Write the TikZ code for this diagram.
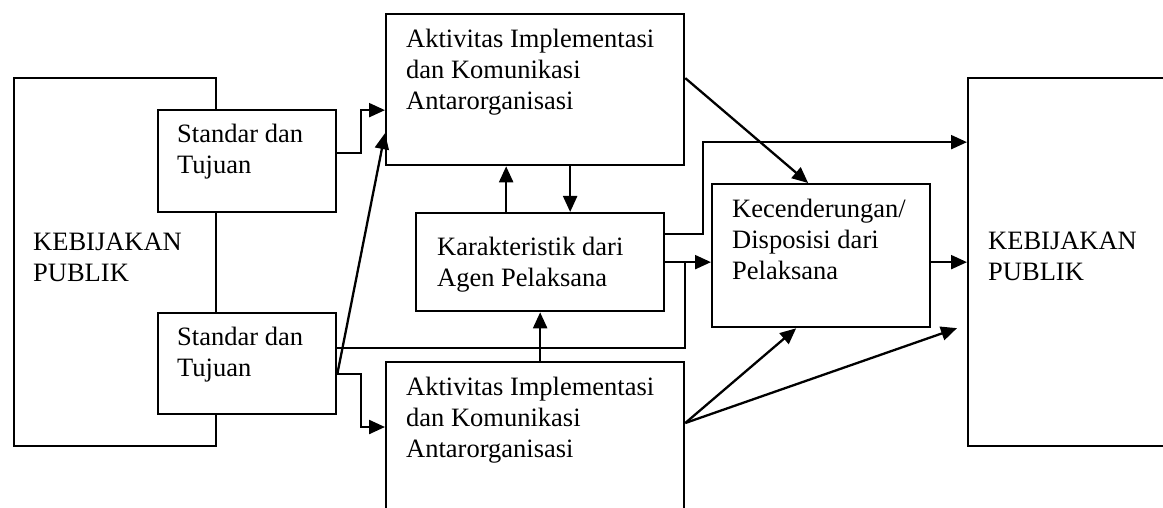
\documentclass[tikz,border=0pt]{standalone}
\usepackage{fontspec}
\setmainfont{Liberation Serif}
\usepackage{tikz}
\usetikzlibrary{arrows.meta, positioning, calc}
\tikzset{
  box/.style={rectangle, draw, fill=white, line width=2.3pt, inner sep=0pt,
              anchor=north west},
  txt/.style={anchor=base west, align=left, inner sep=0pt,
              font=\fontsize{26.5}{31}\selectfont},
  arrow/.style={-{Triangle[length=16pt, width=14pt]}, line width=2.3pt},
  link/.style={line width=2.3pt}
}
\begin{document}
\begin{tikzpicture}[x=1pt, y=-1pt]
  \useasboundingbox (0,0) rectangle (1163,508);

  % Boxes
  \node[box, minimum width=202pt, minimum height=368pt] (kl)   at (13,77)  {};
  \node[box, minimum width=178pt, minimum height=102pt] (std1) at (157,109) {};
  \node[box, minimum width=178pt, minimum height=101pt] (std2) at (157,312) {};
  \node[box, minimum width=298pt, minimum height=151pt] (akt1) at (385,13)  {};
  \node[box, minimum width=248pt, minimum height=98pt]  (kar)  at (415,212) {};
  \node[box, minimum width=298pt, minimum height=170pt] (akt2) at (385,361) {};
  \node[box, minimum width=218pt, minimum height=143pt] (kec)  at (711,183) {};
  \node[box, minimum width=220pt, minimum height=368pt] (kr)   at (967,77)  {};

  % Texts (placed by the baseline of their last line)
  \node[txt] (klt)   at ([xshift=20pt, yshift=-204pt]kl.north west)  {KEBIJAKAN\\PUBLIK};
  \node[txt] (std1t) at ([xshift=20pt, yshift=-65pt]std1.north west) {Standar dan\\Tujuan};
  \node[txt] (std2t) at ([xshift=20pt, yshift=-64pt]std2.north west) {Standar dan\\Tujuan};
  \node[txt] (akt1t) at ([xshift=21pt, yshift=-97pt]akt1.north west) {Aktivitas Implementasi\\dan Komunikasi\\Antarorganisasi};
  \node[txt] (kart)  at ([xshift=22pt, yshift=-74pt]kar.north west)  {Karakteristik dari\\Agen Pelaksana};
  \node[txt] (akt2t) at ([xshift=21pt, yshift=-96pt]akt2.north west) {Aktivitas Implementasi\\dan Komunikasi\\Antarorganisasi};
  \node[txt] (kect)  at ([xshift=21pt, yshift=-96pt]kec.north west)  {Kecenderungan/\\Disposisi dari\\Pelaksana};
  \node[txt] (krt)   at ([xshift=21pt, yshift=-203pt]kr.north west)  {KEBIJAKAN\\PUBLIK};

  % Standar dan Tujuan -> Aktivitas
  \draw[arrow] ([yshift=8pt]std1.east) -- ++(24,0) |- ([yshift=-20.5pt]akt1.west);
  \draw[arrow] ([yshift=-10.5pt]std2.east) -- ([yshift=-43.5pt]akt1.west);
  \draw[arrow] ([yshift=-10.5pt]std2.east) -- ++(24,0) |- ([yshift=-66pt]akt2.north west);
  \draw[link]  ([yshift=15.5pt]std2.east) -| (kar.east -| akt2.east);

  % Aktivitas <-> Karakteristik
  \draw[arrow] ([xshift=-34pt]kar.north) -- ([xshift=-34pt]kar.north |- akt1.south);
  \draw[arrow] ([xshift=30pt]kar.north |- akt1.south) -- ([xshift=30pt]kar.north);
  \draw[arrow] (kar.south |- akt2.north) -- (kar.south);

  % Towards Kecenderungan and Kebijakan Publik
  \draw[arrow] (kar.east) -- (kar.east -| kec.west);
  \draw[arrow] ([yshift=28pt]kar.east) -- ++(38,0) |- ([yshift=120pt]kr.west);
  \draw[arrow] ([yshift=11.5pt]akt1.east) -- ([xshift=-13pt]kec.north);
  \draw[arrow] ([yshift=-62pt]akt2.north east) -- ([xshift=-25pt]kec.south);
  \draw[arrow] ([yshift=-62pt]akt2.north east) -- ([xshift=-10pt, yshift=-66pt]kr.west);
  \draw[arrow] (kec.east |- kar.east) -- (kr.west |- kar.east);
\end{tikzpicture}
\end{document}
